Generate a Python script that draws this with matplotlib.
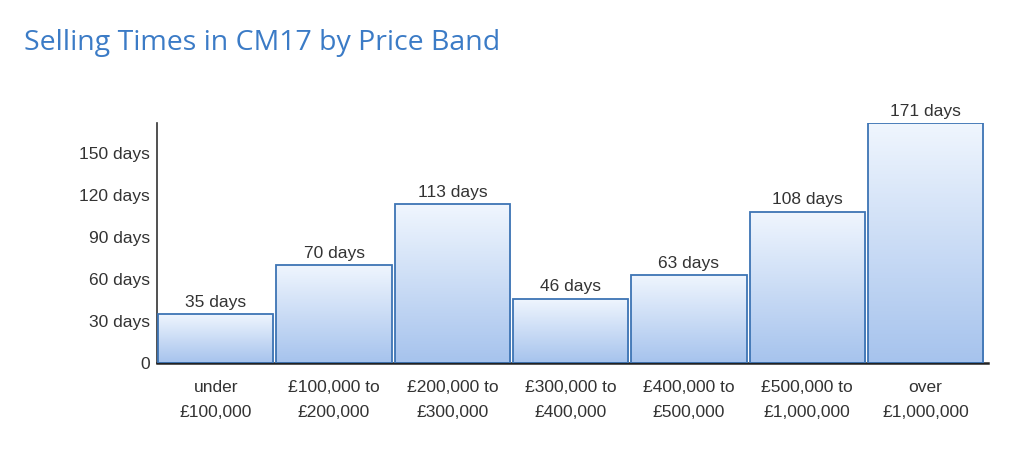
import numpy as np
import matplotlib.pyplot as plt
from matplotlib.colors import LinearSegmentedColormap

# === DADOS ===
bandas = ['under\n£100,000', '£100,000 to\n£200,000', '£200,000 to\n£300,000',
          '£300,000 to\n£400,000', '£400,000 to\n£500,000', '£500,000 to\n£1,000,000',
          'over\n£1,000,000']
dias = [35, 70, 113, 46, 63, 108, 171]
yticks = [0, 30, 60, 90, 120, 150]
ytick_labels = ['0', '30 days', '60 days', '90 days', '120 days', '150 days']

plt.rcParams['font.family'] = ['Liberation Sans', 'DejaVu Sans']

fig = plt.figure(figsize=(10.24, 4.54), dpi=100)
ax = fig.add_axes([0.153, 0.2, 0.812, 0.529])

x = np.arange(len(dias))
bars = ax.bar(x, dias, width=0.975, color='none', edgecolor='#3d74b4', linewidth=1.3, zorder=3)

# gradiente dentro de cada barra
grad = np.linspace(0, 1, 256).reshape(-1, 1)
cmap = LinearSegmentedColormap.from_list('azul', ['#a6c3ed', '#f0f6fe'])
for b in bars:
    x0, w, h = b.get_x(), b.get_width(), b.get_height()
    im = ax.imshow(grad, cmap=cmap, extent=[x0, x0 + w, 0, h], origin='lower',
                   aspect='auto', zorder=2)
    im.set_clip_path(b)
    ax.text(x0 + w / 2, h + 3, f'{h:.0f} days', ha='center', va='bottom',
            fontsize=12.5, color='#333333')

ax.set_xlim(-0.5, len(dias) - 0.47)
ax.set_ylim(0, 171)
ax.set_yticks(yticks)
ax.set_yticklabels(ytick_labels, fontsize=12.5, color='#333333')
ax.set_xticks(x)
ax.set_xticklabels(bandas, fontsize=12.5, color='#333333', linespacing=1.85)
ax.tick_params(length=0, pad=5)
ax.tick_params(axis='x', pad=12)

for s in ['top', 'right']:
    ax.spines[s].set_visible(False)
ax.spines['left'].set_color('#333333')
ax.spines['bottom'].set_color('#222222')
ax.spines['bottom'].set_linewidth(1.8)
ax.spines['left'].set_linewidth(1.2)

fig.text(0.023, 0.905, 'Selling Times in CM17 by Price Band', fontsize=20.5,
         color='#3b7bc6', family=['Open Sans', 'DejaVu Sans'], weight='medium',
         va='center')

fig.savefig('out.png', dpi=100)
